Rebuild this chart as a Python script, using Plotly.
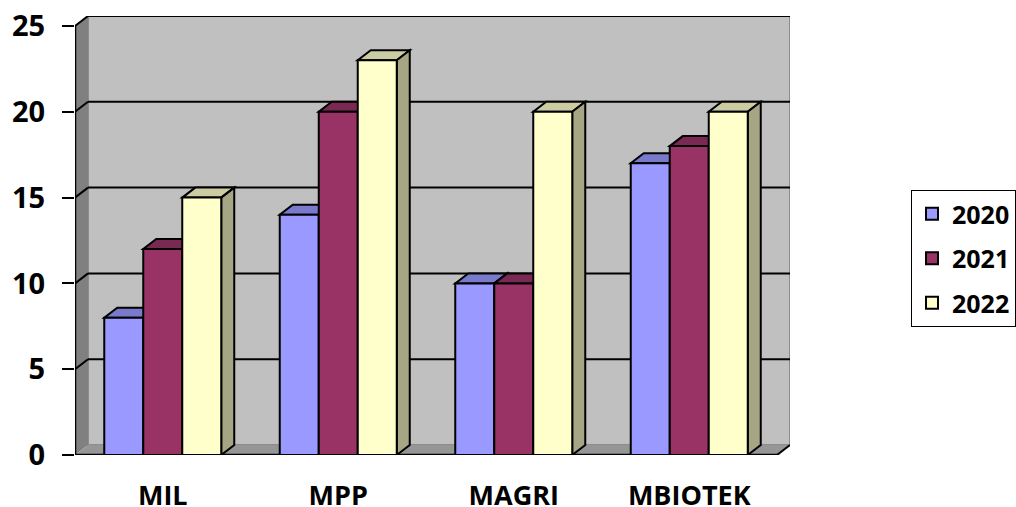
import plotly.graph_objects as go

categories = ["MIL", "MPP", "MAGRI", "MBIOTEK"]
years = ["2020", "2021", "2022"]
v2020 = [8, 14, 10, 17]
v2021 = [12, 20, 10, 18]
v2022 = [15, 23, 20, 20]
series = [v2020, v2021, v2022]
front = ["#9999FF", "#993366", "#FFFFCC"]
top = ["#7A7ACC", "#7A2952", "#CCCCA3"]
side = ["#6B6BB3", "#6B2447", "#A6A685"]
yticks = [0, 5, 10, 15, 20, 25]

PX_X = 175.5
PX_Y = 429 / 25
DX = 13 / PX_X
DY = 10 / PX_Y
BAR_W = (2 / 3) / 3
FONT = "Open Sans"

def poly(pts, fill, lw=2, lc="#000000"):
    path = "M" + " L".join(f"{x},{y}" for x, y in pts) + " Z"
    return dict(type="path", path=path, xref="x", yref="y", layer="below",
                fillcolor=fill, line=dict(color=lc, width=lw))

def seg(xa, ya, xb, yb, w=2, c="#000000"):
    return dict(type="line", xref="x", yref="y", layer="below",
                x0=xa, x1=xb, y0=ya, y1=yb, line=dict(color=c, width=w))

x0, x1 = -0.5, 3.5
ymax = 25
shapes = [
    poly([(x0 + DX, DY), (x1 + DX, DY), (x1 + DX, ymax + DY), (x0 + DX, ymax + DY)], "#C0C0C0", 2, "#8C8C8C"),
    poly([(x0, 0), (x0 + DX, DY), (x0 + DX, ymax + DY), (x0, ymax)], "#808080", 0),
    poly([(x0, 0), (x1, 0), (x1 + DX, DY), (x0 + DX, DY)], "#969696", 0),
]
for t in yticks[1:]:
    shapes.append(seg(x0 + DX, t + DY, x1 + DX, t + DY))
    shapes.append(seg(x0, t, x0 + DX, t + DY))
shapes.append(seg(x0, 0, x0, ymax, 2.5))
shapes.append(seg(x0, 0, x1, 0, 2.5))
shapes.append(seg(x1, 0, x1 + DX, DY))

fig = go.Figure()
for s, vals in enumerate(series):
    for i, v in enumerate(vals):
        left = i + (s - 1.5) * BAR_W
        right = left + BAR_W
        shapes.append(poly([(left, v), (right, v), (right + DX, v + DY), (left + DX, v + DY)], top[s]))
        shapes.append(poly([(right, 0), (right + DX, DY), (right + DX, v + DY), (right, v)], side[s]))

for s, vals in enumerate(series):
    fig.add_bar(x=list(range(4)), y=vals, name=years[s], legendgroup=years[s],
                marker=dict(color=front[s], line=dict(color="#000000", width=2)))

fig.update_layout(
    width=1016, height=507, autosize=False,
    margin=dict(l=75, r=226, t=16, b=52, autoexpand=False),
    paper_bgcolor="white", plot_bgcolor="white",
    barmode="group", bargap=1 / 3, bargroupgap=0,
    shapes=shapes,
    font=dict(family=FONT, color="#000000"),
    showlegend=True,
    legend=dict(x=(911 - 75) / 715, y=(507 - 52 - 190) / 439, xanchor="left", yanchor="top",
                bgcolor="white", bordercolor="#000000", borderwidth=1,
                font=dict(family=FONT, size=25, weight=700),
                tracegroupgap=9, traceorder="grouped", itemclick=False),
    xaxis=dict(range=[x0, x1 + DX], tickvals=list(range(4)), ticktext=categories,
               showgrid=False, zeroline=False, ticks="", showline=False,
               tickfont=dict(family=FONT, size=27, weight=700), ticklabelstandoff=22),
    yaxis=dict(range=[0, ymax + DY], tickvals=yticks, showgrid=False, zeroline=False,
               ticks="outside", ticklen=12, tickwidth=2, tickcolor="#000000",
               showline=False, ticklabelstandoff=11,
               tickfont=dict(family=FONT, size=29, weight=700)),
)
fig.write_html("out.html", config={"displayModeBar": False},
               post_script="document.body.style.margin='0';")
